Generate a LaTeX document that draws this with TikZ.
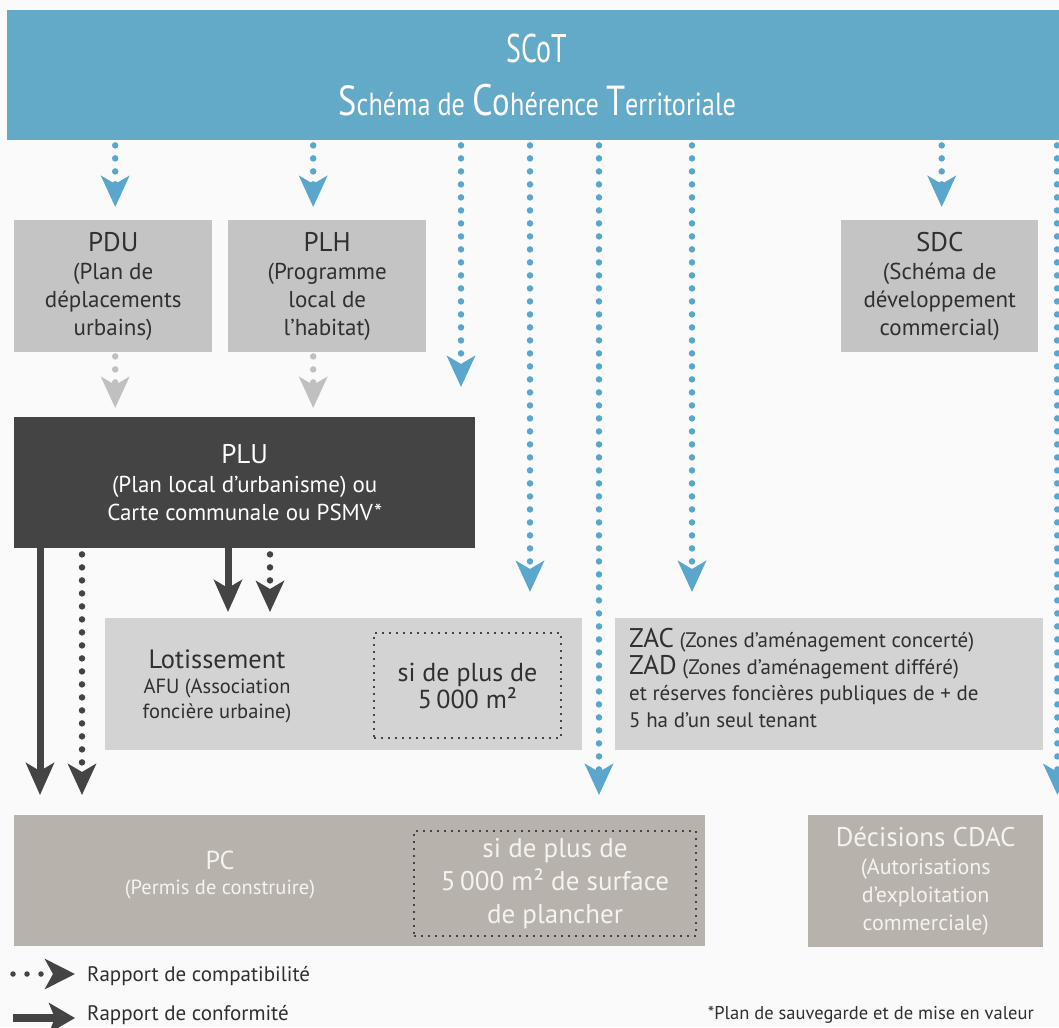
\documentclass[tikz,border=0pt]{standalone}
\usepackage{fontspec}
\setmainfont{PT Sans}
\newfontfamily\narrowFont[FakeStretch=0.82]{PT Sans}
\newfontfamily\titleFont[FakeStretch=0.7]{PT Sans}
\usepackage{tikz}
\usetikzlibrary{
  arrows.meta,
  positioning,
  calc
}
\usepackage{xcolor}
\definecolor{pageGrey}{HTML}{FAFAFA}
\definecolor{scotBlue}{HTML}{63A9C8}
\definecolor{arrowBlue}{HTML}{5AA6CC}
\definecolor{boxGrey}{HTML}{C4C4C4}
\definecolor{lightGrey}{HTML}{D3D3D3}
\definecolor{darkGrey}{HTML}{444444}
\definecolor{taupe}{HTML}{B7B2AB}
\definecolor{inkGrey}{HTML}{303030}
\definecolor{paleText}{HTML}{F6F3EE}
\definecolor{fadedGrey}{HTML}{C0C0C0}
\tikzset{
  plan box/.style={
    fill=boxGrey,
    inner sep=0pt,
    anchor=north west,
    align=center,
    text=inkGrey,
    font=\fontsize{23}{28}\selectfont
  },
  flat box/.style={
    fill=#1,
    inner sep=0pt,
    anchor=north west
  },
  cond box/.style={
    draw=darkGrey,
    line width=2pt,
    dash pattern=on 2pt off 5pt,
    inner sep=0pt,
    anchor=north west,
    align=center
  },
  compat/.style={
    line width=6.5pt,
    line cap=round,
    dash pattern=on 0pt off 13pt,
    -{Stealth[length=31pt,width=28pt,inset=8pt]}
  },
  conform/.style={
    line width=7pt,
    -{Stealth[length=32pt,width=28pt,inset=8pt]}
  },
  key compat/.style={
    line width=5.5pt,
    line cap=round,
    dash pattern=on 0pt off 14pt,
    -{Stealth[length=30pt,width=30pt,inset=8pt]}
  },
  key conform/.style={
    line width=8pt,
    -{Stealth[length=26pt,width=30pt,inset=6pt]}
  }
}

\begin{document}
\begin{tikzpicture}[x=1pt, y=-1pt]
  \useasboundingbox (0,0) rectangle (1059,1027);
  \fill[pageGrey] (0,0) rectangle (1059,1027);

  % schema de coherence
  \node[flat box=scotBlue, minimum width=1060pt, minimum height=130pt,
        align=center, text=white,
        font=\narrowFont\fontsize{32}{53}\selectfont] (scot) at (7,10)
    {{\titleFont\fontsize{40}{53}\selectfont SCoT}\\
     {\fontsize{42}{53}\selectfont S}chéma de {\fontsize{44}{53}\selectfont C}{\fontsize{40}{53}\selectfont o}hérence {\fontsize{42}{53}\selectfont T}erritoriale};

  \node[plan box, minimum width=198pt, minimum height=132pt] (pdu) at (14,220)
    {{\fontsize{27}{28}\selectfont PDU}\\(Plan de\\déplacements\\urbains)};
  \node[plan box, minimum width=198pt, minimum height=132pt] (plh) at (228,220)
    {{\fontsize{27}{28}\selectfont PLH}\\(Programme\\local de\\l’habitat)};
  \node[plan box, minimum width=197pt, minimum height=132pt] (sdc) at (841,220)
    {{\fontsize{27}{28}\selectfont SDC}\\(Schéma de\\développement\\commercial)};

  \node[plan box, fill=darkGrey, text=white, minimum width=461pt, minimum height=131pt,
        font=\fontsize{23}{28.5}\selectfont] (plu) at (14,417)
    {{\fontsize{27}{28}\selectfont PLU}\\(Plan local d’urbanisme) ou\\Carte communale ou PSMV*};

  % lotissement
  \node[flat box=lightGrey, minimum width=477pt, minimum height=132pt] (lot) at (105,618) {};
  \node[align=center, text=inkGrey, inner sep=0pt, font=\fontsize{20.5}{25}\selectfont] (lotText)
    at ($(lot.west)+(112,2)$)
    {{\fontsize{26.5}{30}\selectfont Lotissement}\\AFU (Association\\foncière urbaine)};
  \node[cond box, minimum width=187pt, minimum height=105pt, text=inkGrey,
        font=\fontsize{26}{27}\selectfont] (lotCond) at (373,632)
    {si de plus de\\5\,000 m²};

  % zac zad
  \node[flat box=lightGrey, minimum width=428pt, minimum height=132pt] (zac) at (615,618) {};
  \node[anchor=west, align=left, text=inkGrey, inner sep=0pt, font=\fontsize{21}{26.5}\selectfont] (zacText)
    at ($(zac.west)+(14,-6)$)
    {{\fontsize{27}{26.5}\selectfont ZAC} (Zones d’aménagement concerté)\\
     {\fontsize{27}{26.5}\selectfont ZAD} (Zones d’aménagement différé)\\
     et réserves foncières publiques de + de\\
     5 ha d’un seul tenant};

  % permis de construire
  \node[flat box=taupe, minimum width=691pt, minimum height=131pt] (pc) at (14,815) {};
  \node[align=center, text=paleText, inner sep=0pt, font=\fontsize{20.5}{25}\selectfont] (pcText)
    at ($(pc.west)+(206,-6)$)
    {{\fontsize{26}{25}\selectfont PC}\\(Permis de construire)};
  \node[cond box, minimum width=282pt, minimum height=105pt, text=paleText,
        font=\fontsize{27}{33}\selectfont] (pcCond) at (413,830)
    {si de plus de\\5\,000 m² de surface\\de plancher};

  \node[plan box, fill=taupe, text=paleText, minimum width=235pt, minimum height=132pt,
        font=\fontsize{22}{28}\selectfont] (cdac) at (808,815)
    {{\fontsize{27}{28}\selectfont Décisions CDAC}\\(Autorisations\\d’exploitation\\commerciale)};

  % fleches du SCoT
  \draw[compat, arrowBlue] ($(scot.south -| pdu.north)+(2,5)$) -- ($(pdu.north)+(2,-13)$);
  \draw[compat, arrowBlue] ($(scot.south -| plh.north)+(-14,5)$) -- ($(plh.north)+(-14,-13)$);
  \draw[compat, arrowBlue] ($(scot.south -| sdc.north)+(2,5)$) -- ($(sdc.north)+(2,-13)$);
  \draw[compat, arrowBlue] ($(scot.south west)+(454,5)$) -- ($(plu.north west)+(447,-30)$);
  \draw[compat, arrowBlue] ($(scot.south west)+(523,5)$) -- ($(lot.north west)+(425,-26)$);
  \draw[compat, arrowBlue] ($(scot.south west)+(592,5)$) -- ($(pc.north west)+(585,-20)$);
  \draw[compat, arrowBlue] ($(scot.south west)+(685,5)$) -- ($(zac.north west)+(77,-26)$);
  \draw[compat, arrowBlue] ($(scot.south west)+(1050,5)$) -- ($(cdac.north east)+(14,-20)$);

  % vers le PLU
  \draw[compat, fadedGrey] ($(pdu.south)+(2,4)$) -- ($(pdu.south |- plu.north)+(2,-9)$);
  \draw[compat, fadedGrey] ($(plh.south)+(-14,4)$) -- ($(plh.south |- plu.north)+(-14,-9)$);

  % depuis le PLU
  \draw[conform, darkGrey] ($(plu.south west)+(26,0)$) -- ($(pc.north west)+(26,-20)$);
  \draw[compat, darkGrey] ($(plu.south west)+(68,6)$) -- ($(pc.north west)+(68,-20)$);
  \draw[conform, darkGrey] ($(plu.south west)+(214,0)$) -- ($(lot.north west)+(123,-6)$);
  \draw[compat, darkGrey] ($(plu.south west)+(256,6)$) -- ($(lot.north west)+(165,-6)$);

  % legende
  \node[anchor=west, inner sep=0pt, text=inkGrey, font=\fontsize{21}{24}\selectfont] (compatLabel)
    at (87,976) {Rapport de compatibilité};
  \node[anchor=west, inner sep=0pt, text=inkGrey, font=\fontsize{21}{24}\selectfont] (conformLabel)
    at (87,1015) {Rapport de conformité};
  \draw[key compat, darkGrey] ($(compatLabel.west)+(-74,-2)$) -- ($(compatLabel.west)+(-12,-2)$);
  \draw[key conform, darkGrey] ($(conformLabel.west)+(-74,3)$) -- ($(conformLabel.west)+(-12,3)$);
  \node[anchor=east, inner sep=0pt, text=inkGrey, font=\fontsize{18.5}{24}\selectfont] (psmvNote)
    at (1034,1015) {*Plan de sauvegarde et de mise en valeur};
\end{tikzpicture}
\end{document}
